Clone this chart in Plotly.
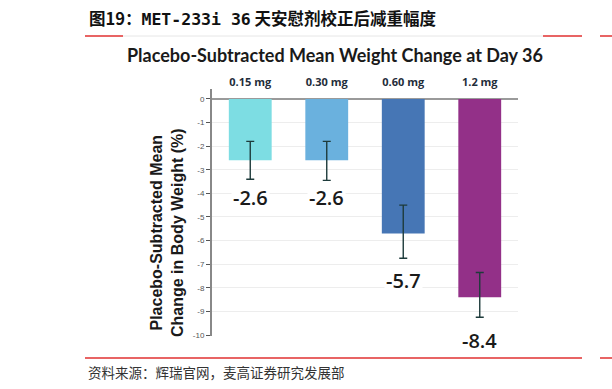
import plotly.graph_objects as go

categories = ["0.15 mg", "0.30 mg", "0.60 mg", "1.2 mg"]
values = [-2.6, -2.6, -5.7, -8.4]
err_up = [0.8, 0.85, 1.05, 0.85]     # toward zero
err_down = [0.8, 0.8, 1.2, 1.05]     # away from zero
value_labels = ["-2.6", "-2.6", "-5.7", "-8.4"]
bar_colors = ["#7DDDE3", "#6AB1DE", "#4676B5", "#933088"]
y_ticks = [0, -1, -2, -3, -4, -5, -6, -7, -8, -9, -10]

W, H = 612, 389
x0, x1 = 212, 518
ytop, ybot = 89, 335.5

fig = go.Figure()
fig.add_trace(go.Bar(
    x=categories, y=values,
    marker=dict(color=bar_colors, line=dict(width=0)),
    width=0.56,
    error_y=dict(type="data", symmetric=False, array=err_down, arrayminus=err_up,
                 color="#1E3B3B", thickness=1.4, width=4),
    showlegend=False,
    hoverinfo="skip",
))

# value labels below error bars
for c, v, ed, lab in zip(categories, values, err_down, value_labels):
    fig.add_annotation(x=c, y=v - ed, text=lab, showarrow=False, yanchor="top",
                       yshift=-3, font=dict(family="Open Sans", size=20, color="#1a1a1a", weight=600),
                       bgcolor="white")

fig.update_layout(
    width=W, height=H,
    margin=dict(l=0, r=0, t=0, b=0, autoexpand=False),
    paper_bgcolor="white", plot_bgcolor="white",
    bargap=0.44,
    xaxis=dict(domain=[x0 / W, x1 / W], side="top", showline=False, ticks="",
               tickfont=dict(family="Open Sans", size=11, color="#1f2d3a", weight=700),
               showgrid=False, zeroline=False, anchor="y", automargin=False),
    yaxis=dict(domain=[(H - ybot) / H, (H - ytop) / H], range=[-10.02, 0.42],
               tickvals=y_ticks, ticktext=[str(t) for t in y_ticks],
               tickfont=dict(family="Liberation Sans", size=8, color="#555"),
               ticks="outside", ticklen=4, tickcolor="#555", tickwidth=1,
               showline=True, linecolor="#888", linewidth=2,
               showgrid=True, gridcolor="#EDEDED", gridwidth=1,
               zeroline=True, zerolinecolor="#9a9a9a", zerolinewidth=2,
               automargin=False),
)

# y axis title
fig.add_annotation(xref="paper", yref="paper", x=167 / W, y=1 - 232 / H,
                   xanchor="center", yanchor="middle",
                   text="Placebo-Subtracted Mean<br>Change in Body Weight (%)",
                   textangle=-90, showarrow=False,
                   font=dict(family="Liberation Sans", size=16, color="#1a1a1a", weight=700))

# chart title
fig.add_annotation(xref="paper", yref="paper", x=335 / W, y=1 - 55 / H,
                   xanchor="center", yanchor="middle",
                   text="Placebo-Subtracted Mean Weight Change at Day 36",
                   showarrow=False,
                   font=dict(family="Lato", size=18, color="#1a1a1a", weight=700))

# report header
fig.add_annotation(xref="paper", yref="paper", x=87 / W, y=1 - 18 / H, xanchor="left",
                   yanchor="middle",
                   text="图19：<span style='font-family:DejaVu Sans Mono'>MET-233i 36</span> 天安慰剂校正后减重幅度",
                   showarrow=False,
                   font=dict(family="Noto Sans CJK SC", size=16.5, color="#111", weight=700))
fig.add_annotation(xref="paper", yref="paper", x=86 / W, y=1 - 372 / H, xanchor="left",
                   yanchor="middle",
                   text="资料来源：辉瑞官网，麦高证券研究发展部", showarrow=False,
                   font=dict(family="Noto Sans CJK SC", size=13.5, color="#333"))

# red rules
def hline(xa, xb, y, color="#E03030", w=1.5):
    fig.add_shape(type="line", xref="paper", yref="paper",
                  x0=xa / W, x1=xb / W, y0=1 - y / H, y1=1 - y / H,
                  line=dict(color=color, width=w))

hline(85, 123, 36)
hline(123, 543, 36, color="#e6e6e6", w=1)
hline(543, 582, 36)
hline(600, 612, 36)
hline(85, 582, 358)
hline(600, 612, 358)

fig.write_html("out.html", config={"displayModeBar": False},
               post_script="document.body.style.margin='0';document.body.style.overflow='hidden';")
